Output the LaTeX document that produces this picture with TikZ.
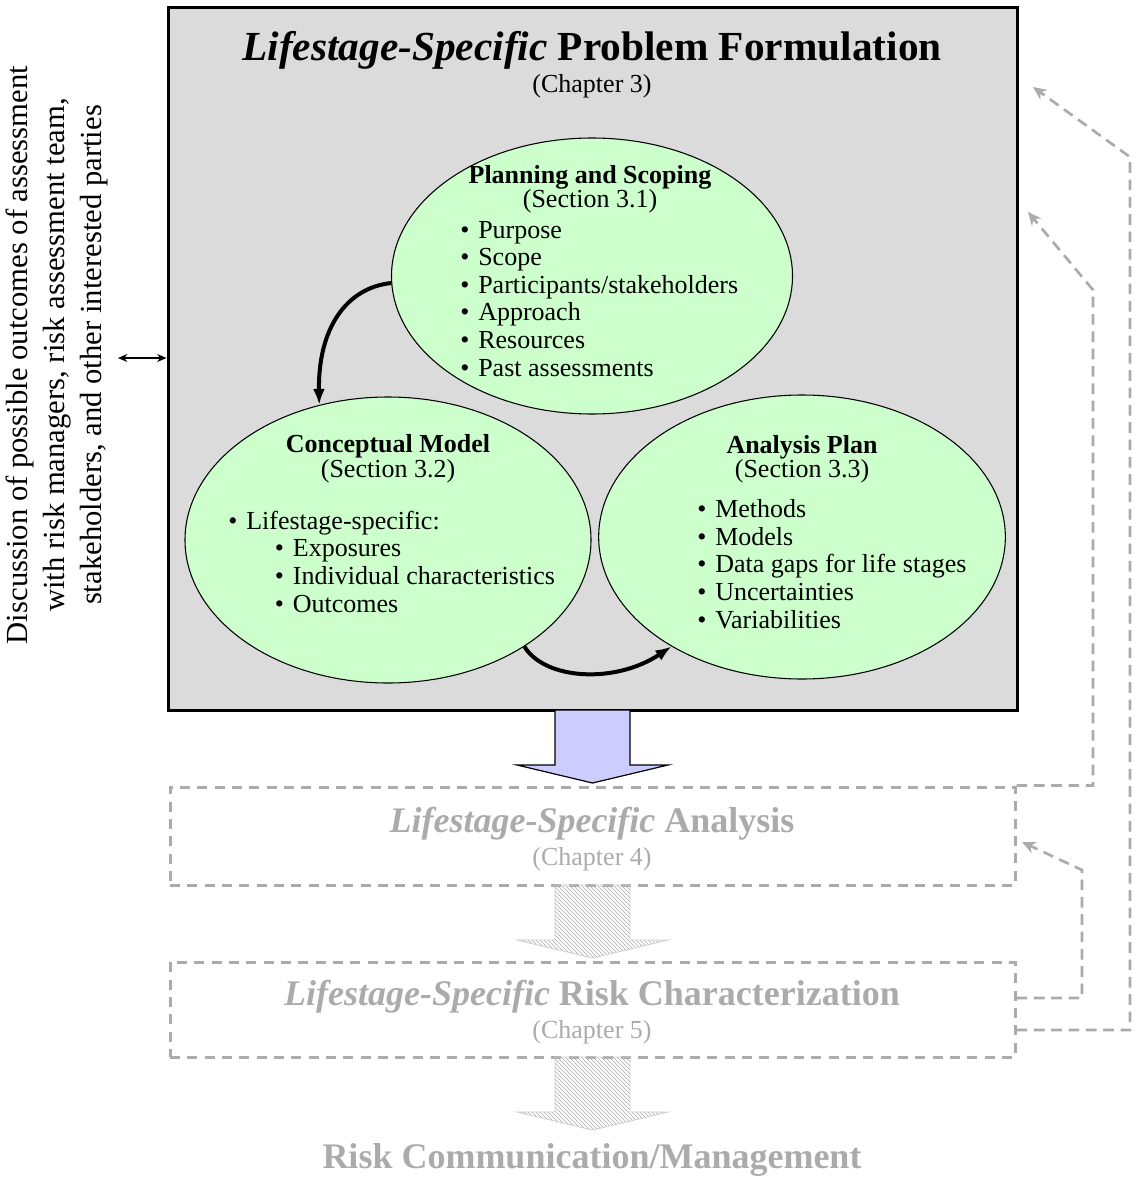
\documentclass[tikz,border=0pt]{standalone}
\usepackage{fontspec}
\setmainfont{Liberation Serif}
\usetikzlibrary{shapes.geometric,patterns,arrows.meta,calc}
\definecolor{panel}{rgb}{0.86,0.86,0.86}
\definecolor{leaf}{rgb}{0.8,1,0.8}
\definecolor{lilac}{rgb}{0.8,0.8,1}
\definecolor{fade}{rgb}{0.67,0.67,0.67}
\newcommand{\bul}{\makebox[13.5pt][l]{\textbullet}}

\begin{document}
\begin{tikzpicture}[
  x=0.75pt,y=-0.75pt,
  panelbox/.style={draw,line width=2.25pt,fill=panel,inner sep=0},
  laterbox/.style={draw=fade,line width=2.25pt,
    dash pattern=on 7.5pt off 5.5pt,inner sep=0},
  bubble/.style={ellipse,draw,line width=0.8pt,fill=leaf,inner sep=0},
  bubblehead/.style={anchor=base,font=\fontsize{19.5}{21}\selectfont\bfseries},
  sect/.style={anchor=base,font=\fontsize{19.5}{21}\selectfont},
  % base west of a multi-line node sits on its last line
  items/.style={anchor=base west,align=left,inner sep=0,
    font=\fontsize{19.5}{20.7}\selectfont},
  cyclearrow/.style={-{Latex[length=12pt,width=9pt]},line width=3pt},
  feedback/.style={draw=fade,line width=2pt,
    dash pattern=on 8pt off 5pt,-{Stealth[length=10pt,width=9pt]}},
  lilacarrow/.style={draw,line width=0.9pt,fill=lilac},
  hatcharrow/.style={draw=fade!60,line width=0.6pt,
    pattern=north west lines,pattern color=fade},
  ]
  \useasboundingbox (0,0) rectangle (1139,1184);
  % Problem formulation panel
  \node[panelbox,minimum width=636.75pt,minimum height=526.5pt] (pf) at (592.5,359) {};
  \node[anchor=base,font=\fontsize{31}{34}\selectfont\bfseries] (title) at (592,61)
    {\textit{Lifestage-Specific} Problem Formulation};
  \node[sect] (ch3) at (592,93) {(Chapter 3)};
  % Later stages
  \node[laterbox,minimum width=633.75pt,minimum height=73.5pt] (anl) at (592.5,836) {};
  \node[laterbox,minimum width=633.75pt,minimum height=71.25pt] (rc) at (592.5,1009.5) {};
  % Bubbles
  \node[bubble,minimum width=304.5pt,minimum height=214.5pt] (concept) at (388,540) {};
  \node[bubble,minimum width=305pt,minimum height=213pt] (plan) at (802,537) {};
  \node[bubble,minimum width=300.75pt,minimum height=207pt] (scope) at (592,276) {};
  % Planning and scoping
  \node[bubblehead] (scopehead) at (590,183) {Planning and Scoping};
  \node[sect] (scopesect) at (590,207) {(Section 3.1)};
  \node[items] (scopelist) at (460,376)
    {\bul Purpose\\ \bul Scope\\ \bul Participants/stakeholders\\
     \bul Approach\\ \bul Resources\\ \bul Past assessments};
  % Conceptual model
  \node[bubblehead] (concepthead) at (388,452) {Conceptual Model};
  \node[sect] (conceptsect) at (388,477) {(Section 3.2)};
  \node[items] (conceptlist) at (228,612)
    {\bul Lifestage-specific:\\ \hspace{35pt}\bul Exposures\\
     \hspace{35pt}\bul Individual characteristics\\ \hspace{35pt}\bul Outcomes};
  % Analysis plan
  \node[bubblehead] (planhead) at (802,453) {Analysis Plan};
  \node[sect] (plansect) at (802,477) {(Section 3.3)};
  \node[items] (planlist) at (697,628)
    {\bul Methods\\ \bul Models\\ \bul Data gaps for life stages\\
     \bul Uncertainties\\ \bul Variabilities};
  % Cycle
  \draw[cyclearrow] (scope.182) .. controls (345,288) and (318,330) .. (concept.117);
  \draw[cyclearrow] (concept.-38) .. controls (545,680) and (615,684) .. (plan.220);
  % Discussion
  \node[rotate=90,align=center,font=\fontsize{23}{28}\selectfont] (talktext) at (57,355)
    {Discussion of possible outcomes of assessment\\
     with risk managers, risk assessment team,\\
     stakeholders, and other interested parties};
  \coordinate (talk) at (118,358);
  \draw[{Stealth[length=7pt,width=6pt]}-{Stealth[length=7pt,width=6pt]},line width=1pt]
    (talk) -- (talk -| pf.west);
  % Block arrows
  \foreach \y/\sty in {710/lilacarrow,885/hatcharrow,1057/hatcharrow}
    \draw[\sty] (555,\y) -- (555,{\y+55}) -- (517,{\y+55}) -- (592.5,{\y+73})
      -- (668,{\y+55}) -- (630,{\y+55}) -- (630,\y) -- cycle;
  % Later stage texts
  \node[anchor=base,text=fade,font=\fontsize{27}{30}\selectfont\bfseries] (anltitle)
    at (592,832) {\textit{Lifestage-Specific} Analysis};
  \node[sect,text=fade] (ch4) at (592,865) {(Chapter 4)};
  \node[anchor=base,text=fade,font=\fontsize{27}{30}\selectfont\bfseries] (rctitle)
    at (592,1005) {\textit{Lifestage-Specific} Risk Characterization};
  \node[sect,text=fade] (ch5) at (592,1038) {(Chapter 5)};
  \node[anchor=base,text=fade,font=\fontsize{27}{30}\selectfont\bfseries] (rcm)
    at (592,1168) {Risk Communication/Management};
  % Feedback
  \coordinate (pfin1) at (1028,212);
  \coordinate (pfin2) at (1033,87);
  \coordinate (anlin) at (1022,842);
  \draw[feedback] (anl.north east) -| (1093,290) -- (pfin1);
  \draw[feedback] ($(rc.east)+(0,20.5)$) -| (1130,157) -- (pfin2);
  \draw[feedback] ($(rc.east)+(0,-11.5)$) -| (1082,870) -- (anlin);
\end{tikzpicture}
\end{document}
